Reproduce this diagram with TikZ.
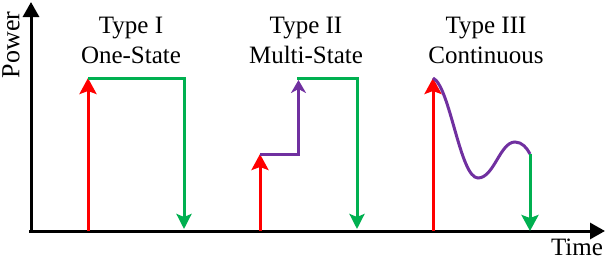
\documentclass[tikz,border=0pt]{standalone}
\usepackage{fontspec}
\setmainfont{Liberation Serif}
\usetikzlibrary{arrows.meta}
\definecolor{onred}{RGB}{255,0,0}
\definecolor{offgreen}{RGB}{0,176,80}
\definecolor{stepviolet}{RGB}{112,48,160}

\begin{document}
\begin{tikzpicture}[x=1pt, y=-1pt,
  axis/.style={-{Triangle[length=15pt, width=16pt]}, line width=3pt, black},
  on/.style={-{Stealth[length=16pt, width=17pt, inset=3pt]}, line width=3pt, onred},
  off/.style={-{Stealth[length=15pt, width=15pt, inset=3pt]}, line width=3pt, offgreen},
  mid/.style={line width=3pt, stepviolet},
  lbl/.style={font=\fontsize{25}{30}\selectfont, align=center, inner sep=0pt},
]
\useasboundingbox (0,0) rectangle (606,260);
\coordinate (o) at (29,231);
\coordinate (ytop) at (31,2);
\coordinate (xend) at (605,231);
\draw[axis] (31,232.5) -- (ytop);
\draw[axis] (o) -- (xend);
\node[lbl, font=\fontsize{26}{30}\selectfont, rotate=90, anchor=base] (power) at (19.5,45) {Power};
\node[lbl, anchor=base] (time) at (577,255) {Time};

\coordinate (on1) at (88,231);
\coordinate (top1) at (88,78);
\coordinate (end1) at (184,78);
\coordinate (off1) at (184,229);
\draw[on] (on1) -- (top1);
\draw[off] (top1) -- (end1) -- (off1);
\node[lbl] (type1) at (131,40) {Type I\\One-State};

\coordinate (on2) at (260,231);
\coordinate (low2) at (260,154);
\coordinate (step2) at (298.5,154);
\coordinate (top2) at (298.5,80);
\coordinate (start2) at (297,78);
\coordinate (end2) at (357,78);
\coordinate (off2) at (357,229);
\draw[on] (on2) -- (low2);
\draw[mid, -{Stealth[length=13pt, width=15pt, inset=4pt]}] (low2) -- (step2) -- (top2);
\draw[off] (start2) -- (end2) -- (off2);
\node[lbl] (type2) at (306,40) {Type II\\Multi-State};

\coordinate (on3) at (433,231);
\coordinate (top3) at (433,78);
\coordinate (low3) at (478,178);
\coordinate (peak3) at (515,142);
\coordinate (end3) at (530,154);
\coordinate (off3) at (530,231);
\draw[on] (on3) -- (top3);
\draw[mid] (top3) .. controls (450,86) and (460,178) .. (low3)
  .. controls (494,178) and (500,142) .. (peak3)
  .. controls (522,142) and (527,148) .. (end3);
\draw[off, -{Stealth[length=16pt, width=17pt, inset=3pt]}] (end3) -- (off3);
\node[lbl] (type3) at (486,40) {Type III\\Continuous};
\end{tikzpicture}
\end{document}
